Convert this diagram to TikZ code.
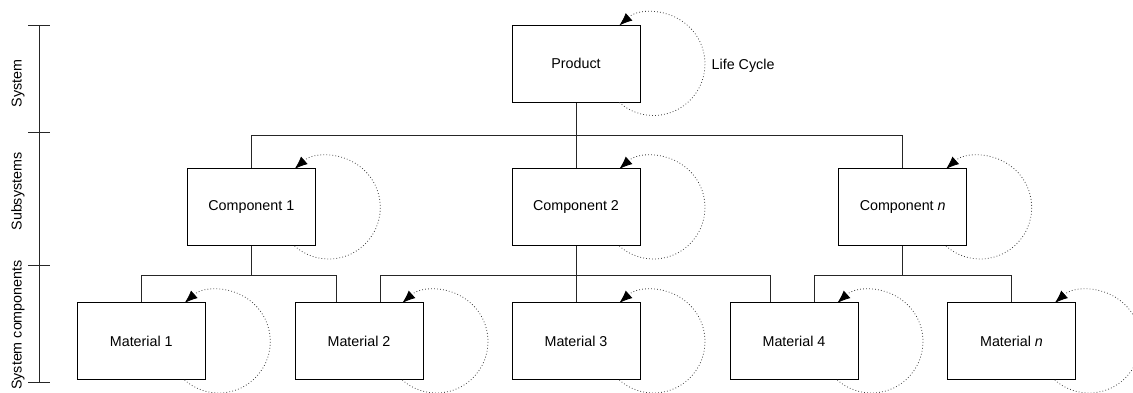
\documentclass[tikz,border=0pt]{standalone}
\usepackage{fontspec}
\setmainfont{Liberation Sans}
\usetikzlibrary{arrows.meta}
\tikzset{
  box/.style={draw=black, line width=1pt, fill=white, minimum width=128pt, minimum height=77pt, inner sep=0pt},
  wire/.style={draw=black!85, line width=1pt},
  loopline/.style={draw=black!75, line width=0.8pt, dash pattern=on 0.8pt off 2.2pt, -{Latex[length=13pt,width=10pt,fill=black,color=black]}},
  axislabel/.style={rotate=90, inner sep=0pt},
}
\newcommand\lifeloop[1]{\draw[loopline] ([xshift=-21.2pt]#1.south east) arc[start angle=-131.6, end angle=131.6, radius=51.5pt];}
\begin{document}
\begin{tikzpicture}[x=1pt, y=-1pt, font=\fontsize{14.3pt}{16pt}\selectfont]
\useasboundingbox (0,0) rectangle (1133,392);
\clip (0,0) rectangle (1133,392);

% level coordinates
\coordinate (busA) at (0,135);
\coordinate (busB) at (0,275);

\node[box] (prod) at (576,63.5) {Product};
\node[box] (c1) at (251.3,207) {Component 1};
\node[box] (c2) at (576,207) {Component 2};
\node[box] (cn) at (902.7,207) {Component \textit{n}};
\node[box] (m1) at (141.3,341) {Material 1};
\node[box] (m2) at (359,341) {Material 2};
\node[box] (m3) at (576,341) {Material 3};
\node[box] (m4) at (794,341) {Material 4};
\node[box] (mn) at (1011.5,341) {Material \textit{n}};

\foreach \n in {prod,c1,c2,cn,m1,m2,m3,m4,mn} {\lifeloop{\n}}

\node[anchor=west, inner sep=0pt] (lc) at (711.5,66) {Life Cycle};

% tree connectors
\draw[wire] (prod.south) -- (prod.south |- busA);
\draw[wire] (c1.north) -- (c1.north |- busA) -- (cn.north |- busA) -- (cn.north);
\draw[wire] (c2.north) -- (c2.north |- busA);

\draw[wire] (c1.south) -- (c1.south |- busB);
\draw[wire] (m1.north) -- (m1.north |- busB) -- ([xshift=-22.3pt]m2.north |- busB) -- ([xshift=-22.3pt]m2.north);

\draw[wire] (c2.south) -- (c2.south |- busB);
\draw[wire] ([xshift=21.7pt]m2.north) -- ([xshift=21.7pt]m2.north |- busB) -- ([xshift=-23.3pt]m4.north |- busB) -- ([xshift=-23.3pt]m4.north);
\draw[wire] (m3.north) -- (m3.north |- busB);

\draw[wire] (cn.south) -- (cn.south |- busB);
\draw[wire] ([xshift=20.3pt]m4.north) -- ([xshift=20.3pt]m4.north |- busB) -- (mn.north |- busB) -- (mn.north);

% axis
\coordinate (a0) at (39.3,25);
\coordinate (a1) at (39.3,132.7);
\coordinate (a2) at (39.3,265.7);
\coordinate (a3) at (39.3,382.7);
\draw[wire] (a0) -- (a3);
\foreach \t in {a0,a1,a2,a3} {\draw[wire] ([xshift=-11pt]\t) -- ([xshift=10.7pt]\t);}

\node[axislabel] (lsys) at (18,83.5) {System};
\node[axislabel] (lsub) at (18,191.5) {Subsystems};
\node[axislabel] (lcomp) at (18,325) {System components};
\end{tikzpicture}
\end{document}
